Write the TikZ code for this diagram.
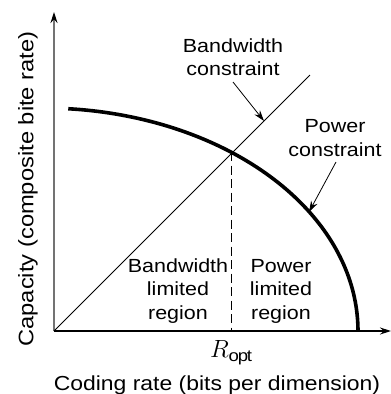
\documentclass[tikz,border=0pt]{standalone}
\usepackage{fontspec}
\setmainfont{Liberation Sans}[FakeStretch=1.13]
\usetikzlibrary{arrows.meta}
\begin{document}
\begin{tikzpicture}[x=1pt,y=-1pt,
  lbl/.style={font=\fontsize{19}{23.5}\selectfont, align=center, inner sep=0pt},
  axlbl/.style={font=\fontsize{21}{24}\selectfont, inner sep=0pt},
  callout/.style={line width=0.8pt, -{Stealth[length=11pt,width=7pt]}},
  axis/.style={line width=1.3pt, -{Stealth[length=11pt,width=7pt]}}]
\useasboundingbox (0,0) rectangle (391,394);
\coordinate (O) at (54,331);
\coordinate (ytip) at (54,12);
\coordinate (xtip) at (391,331);
\coordinate (diagEnd) at (310,75);
\coordinate (X) at (231,152);
\coordinate (Xb) at (231,331);
\coordinate (bwHit) at (264,121);
\coordinate (pwHit) at (309,212);
% axes
\draw[line width=1.3pt, draw=black!55, -{Stealth[length=11pt,width=7pt,color=black]}] (O) -- (ytip);
\draw[axis] (O) -- (xtip);
% bandwidth constraint line
\draw[line width=0.8pt] (O) -- (diagEnd);
% power constraint curve (quarter ellipse)
\draw[line width=3.6pt] plot[domain=85.4:0, samples=80, smooth] ({43+315*cos(\x)},{331-223*sin(\x)});
% dashed line
\draw[line width=0.9pt, dash pattern=on 9pt off 4.5pt] (X) -- (Xb);
% labels
\node[lbl] (bw) at (233,57) {Bandwidth\\constraint};
\node[lbl] (pw) at (335,138) {Power\\constraint};
\draw[callout] (233,82) -- (bwHit);
\draw[callout] (336,162) -- (pwHit);
\node[lbl] (bwr) at (178,291) {Bandwidth\\limited\\region};
\node[lbl] (pwr) at (281,291) {Power\\limited\\region};
\node[inner sep=0pt] (ropt) at (231,353) {\fontsize{23.5}{26}\selectfont$R_{\mathrm{opt}}$};
\node[axlbl, font=\fontsize{20.3}{24}\selectfont] (xl) at (217,385) {Coding rate (bits per dimension)};
\node[axlbl, rotate=90] (yl) at (28,189) {Capacity (composite bite rate)};
\end{tikzpicture}
\end{document}
